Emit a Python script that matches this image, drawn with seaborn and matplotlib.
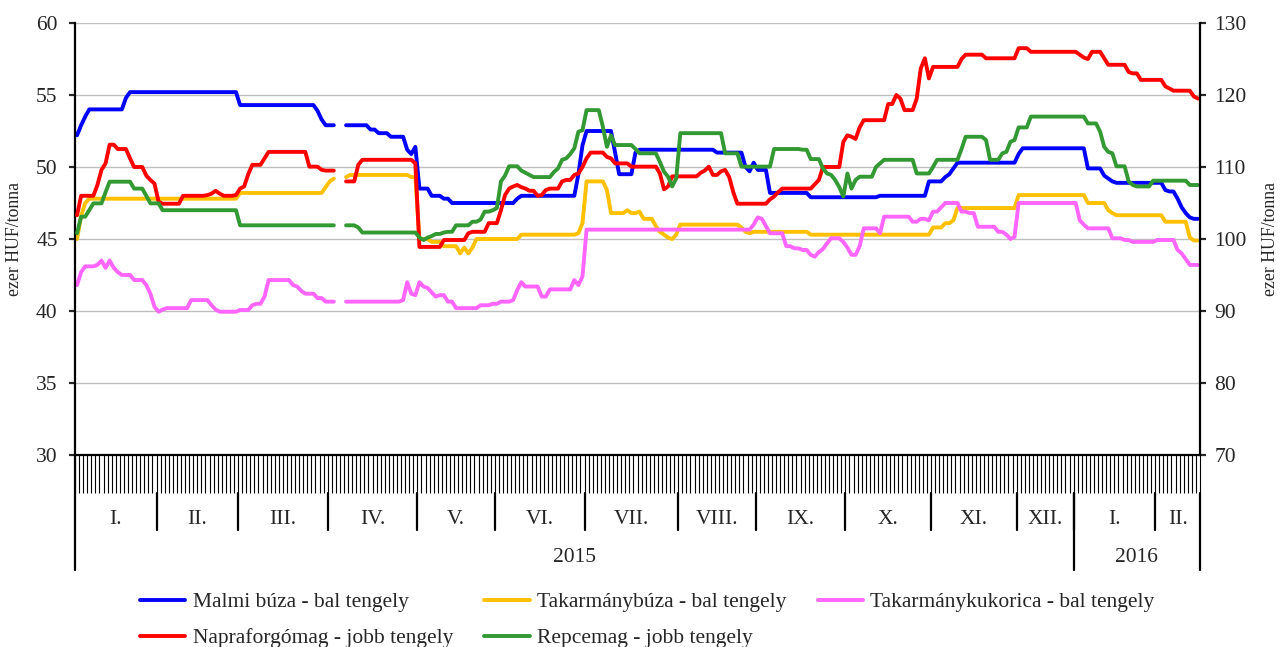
import numpy as np
import pandas as pd
import matplotlib
matplotlib.use("Agg")
import matplotlib.pyplot as plt
from matplotlib.lines import Line2D
import seaborn as sns

# Kereskedési napok havonta (2015. január - 2016. február)
month_labels = ["I.", "II.", "III.", "IV.", "V.", "VI.", "VII.", "VIII.",
                "IX.", "X.", "XI.", "XII.", "I.", "II."]
month_days = [20, 20, 22, 22, 19, 22, 23, 19, 22, 21, 21, 14, 20, 11]
year_labels = ["2015", "2016"]
year_months = [12, 2]
n_days = sum(month_days)

nan = np.nan

# Árváltozások: (kereskedési nap sorszáma, ár) - az ár a következő változásig érvényes
# bal tengely (ezer HUF/tonna)
malmi_buza = [(0, 52.2), (1, 52.9), (2, 53.5), (3, 54.0), (12, 54.8), (13, 55.2), (40, 54.3),
              (59, 53.9), (60, 53.3), (61, 52.9), (64, nan), (66, 52.9), (72, 52.6), (74, 52.35),
              (77, 52.1), (81, 51.2), (82, 50.9), (83, 51.4), (84, 48.5), (87, 48.0), (90, 47.8),
              (92, 47.5), (108, 47.8), (109, 48.0), (123, 49.5), (124, 51.5), (125, 52.5),
              (132, 51.0), (133, 49.5), (137, 51.0), (138, 51.2), (157, 51.0), (164, 50.0),
              (165, 49.7), (166, 50.3), (167, 49.8), (170, 48.2), (180, 47.9), (197, 48.0),
              (209, 49.0), (213, 49.3), (214, 49.5), (215, 49.9), (216, 50.3), (231, 50.9),
              (232, 51.3), (248, 49.9), (252, 49.4), (253, 49.2), (254, 49.0), (255, 48.9),
              (267, 48.4), (268, 48.3), (270, 47.8), (271, 47.2), (272, 46.8), (273, 46.5),
              (274, 46.4)]

takarmanybuza = [(0, 45.0), (1, 46.6), (2, 47.5), (3, 47.8), (40, 48.2), (61, 48.6), (62, 49.0),
                 (63, 49.2), (64, nan), (66, 49.3), (67, 49.45), (82, 49.3), (84, 45.0), (87, 44.8),
                 (90, 44.5), (94, 44.0), (95, 44.4), (96, 44.0), (97, 44.4), (98, 45.0), (109, 45.3),
                 (123, 45.4), (124, 46.1), (125, 49.0), (130, 48.4), (131, 46.8), (135, 47.0),
                 (136, 46.8), (138, 46.9), (139, 46.4), (142, 45.9), (143, 45.5), (144, 45.3),
                 (145, 45.1), (146, 45.0), (147, 45.3), (148, 46.0), (163, 45.8), (164, 45.5),
                 (165, 45.4), (166, 45.5), (180, 45.3), (210, 45.8), (213, 46.1), (215, 46.3),
                 (216, 47.15), (231, 48.05), (248, 47.5), (253, 47.0), (254, 46.8), (255, 46.65),
                 (267, 46.2), (273, 45.1), (274, 44.9)]

takarmanykukorica = [(0, 41.8), (1, 42.7), (2, 43.1), (5, 43.2), (6, 43.5), (7, 43.0), (8, 43.5),
                     (9, 43.0), (10, 42.7), (11, 42.5), (14, 42.15), (17, 41.8), (18, 41.2),
                     (19, 40.3), (20, 39.95), (21, 40.1), (22, 40.2), (28, 40.76), (33, 40.4),
                     (34, 40.1), (35, 39.95), (40, 40.07), (43, 40.4), (44, 40.5), (46, 41.0),
                     (47, 42.15), (53, 41.8), (54, 41.7), (55, 41.4), (56, 41.2), (59, 40.9),
                     (61, 40.65), (64, nan), (66, 40.65), (80, 40.76), (81, 42.0), (82, 41.2),
                     (83, 41.1), (84, 42.0), (85, 41.7), (86, 41.6), (87, 41.3), (88, 41.0),
                     (89, 41.1), (91, 40.65), (93, 40.2), (99, 40.4), (102, 40.5), (104, 40.65),
                     (107, 40.76), (108, 41.46), (109, 42.0), (110, 41.7), (114, 41.0), (116, 41.5),
                     (122, 42.15), (123, 41.8), (124, 42.4), (125, 45.65), (166, 46.0), (167, 46.5),
                     (168, 46.4), (169, 45.9), (170, 45.4), (174, 44.5), (176, 44.35), (178, 44.24),
                     (180, 43.9), (181, 43.77), (182, 44.1), (183, 44.3), (184, 44.7), (185, 45.05),
                     (188, 44.8), (189, 44.4), (190, 43.9), (192, 44.5), (193, 45.74), (197, 45.4),
                     (198, 46.55), (205, 46.2), (207, 46.4), (209, 46.3), (210, 46.9), (212, 47.2),
                     (213, 47.5), (217, 46.9), (219, 46.8), (221, 45.85), (226, 45.5), (228, 45.3),
                     (229, 45.0), (230, 45.15), (231, 47.5), (246, 46.3), (247, 46.0), (248, 45.74),
                     (254, 45.05), (257, 44.93), (259, 44.8), (265, 44.93), (270, 44.24),
                     (271, 44.0), (272, 43.6), (273, 43.2)]

# jobb tengely (ezer HUF/tonna)
napraforgomag = [(0, 103.3), (1, 106.0), (5, 107.5), (6, 109.6), (7, 110.5), (8, 113.1), (10, 112.5),
                 (13, 111.2), (14, 110.0), (17, 108.8), (18, 108.2), (19, 107.7), (20, 105.2),
                 (21, 104.9), (26, 106.0), (32, 106.1), (33, 106.3), (34, 106.7), (35, 106.3),
                 (36, 106.0), (39, 106.1), (40, 107.0), (41, 107.3), (42, 109.0), (43, 110.3),
                 (46, 111.2), (47, 112.1), (57, 110.05), (60, 109.6), (61, 109.5), (64, nan),
                 (66, 108.0), (69, 110.3), (70, 111.0), (83, 110.5), (84, 98.9), (90, 99.86),
                 (96, 100.8), (97, 101.0), (101, 102.2), (104, 104.0), (105, 106.1), (106, 107.0),
                 (107, 107.3), (108, 107.5), (109, 107.2), (110, 107.0), (111, 106.7), (113, 106.0),
                 (114, 106.1), (115, 106.8), (116, 107.0), (119, 108.0), (120, 108.2), (122, 108.9),
                 (123, 109.1), (124, 110.0), (125, 111.2), (126, 112.0), (130, 111.4), (131, 111.2),
                 (132, 110.5), (136, 110.05), (143, 109.1), (144, 106.9), (145, 107.3), (146, 108.7),
                 (153, 109.2), (154, 109.5), (155, 110.05), (156, 108.9), (158, 109.4), (159, 109.6),
                 (160, 108.6), (161, 106.5), (162, 104.9), (170, 105.5), (171, 105.9), (172, 106.5),
                 (173, 107.0), (181, 107.6), (182, 108.2), (183, 110.0), (188, 113.5), (189, 114.4),
                 (190, 114.2), (191, 113.9), (192, 115.5), (193, 116.5), (199, 118.75), (201, 120.0),
                 (202, 119.5), (203, 117.9), (206, 119.5), (207, 123.7), (208, 125.1), (209, 122.3),
                 (210, 123.9), (217, 125.0), (218, 125.6), (223, 125.1), (231, 126.5), (234, 126.0),
                 (246, 125.6), (247, 125.2), (248, 125.0), (249, 126.0), (252, 125.1), (253, 124.2),
                 (258, 123.2), (259, 123.0), (261, 122.1), (267, 121.2), (268, 120.9), (269, 120.6),
                 (274, 119.8), (275, 119.5)]

repcemag = [(0, 100.8), (1, 103.1), (3, 104.0), (4, 104.95), (7, 106.5), (8, 107.96), (14, 107.0),
            (17, 106.0), (18, 104.95), (21, 104.0), (40, 101.9), (64, nan), (66, 101.9), (69, 101.6),
            (70, 100.9), (84, 100.2), (85, 99.86), (86, 100.2), (87, 100.4), (88, 100.7), (90, 100.9),
            (91, 101.0), (93, 101.9), (97, 102.4), (99, 102.7), (100, 103.8), (102, 104.0),
            (103, 104.3), (104, 108.0), (105, 108.8), (106, 110.1), (109, 109.5), (110, 109.2),
            (111, 108.9), (112, 108.6), (117, 109.3), (118, 109.8), (119, 111.0), (120, 111.2),
            (121, 111.8), (122, 112.6), (123, 114.9), (124, 115.1), (125, 117.9), (129, 115.6),
            (130, 112.8), (131, 114.4), (132, 113.05), (137, 112.5), (138, 111.9), (143, 110.7),
            (144, 109.35), (145, 108.65), (146, 107.3), (147, 108.4), (148, 114.7), (159, 111.9),
            (163, 110.05), (171, 112.5), (178, 112.4), (180, 111.1), (183, 109.8), (184, 109.1),
            (185, 108.9), (186, 108.2), (187, 107.2), (188, 105.9), (189, 109.1), (190, 107.0),
            (191, 108.2), (192, 108.65), (196, 110.0), (197, 110.5), (198, 111.0), (206, 109.1),
            (210, 110.0), (211, 111.0), (217, 112.5), (218, 114.2), (223, 113.75), (224, 111.0),
            (227, 111.9), (228, 112.1), (229, 113.5), (230, 113.75), (231, 115.5), (234, 117.0),
            (248, 116.05), (251, 114.9), (252, 112.8), (253, 112.1), (254, 111.9), (255, 110.1),
            (258, 108.0), (259, 107.5), (260, 107.3), (264, 108.1), (273, 107.5)]

left_series = {"Malmi búza - bal tengely": (malmi_buza, "#0000FF"),
               "Takarmánybúza - bal tengely": (takarmanybuza, "#FFC000"),
               "Takarmánykukorica - bal tengely": (takarmanykukorica, "#FF66FF")}
right_series = {"Napraforgómag - jobb tengely": (napraforgomag, "#FF0000"),
                "Repcemag - jobb tengely": (repcemag, "#339933")}


def expand(changes, n):
    # lépcsős kitöltés: minden ár a következő változásig marad
    out = np.full(n, np.nan)
    for day, price in changes:
        out[day:] = price
    return out


def long_frame(series):
    frames = []
    for name, (changes, _) in series.items():
        vals = expand(changes, n_days)
        seg = np.cumsum(np.isnan(vals))
        d = pd.DataFrame({"nap": np.arange(n_days), "ar": vals, "sor": name, "szakasz": seg})
        frames.append(d.dropna())
    return pd.concat(frames, ignore_index=True)


df_left = long_frame(left_series)
df_right = long_frame(right_series)

sns.set_theme(style="white")
plt.rcParams["font.family"] = ["Liberation Serif", "DejaVu Serif"]
plt.rcParams["axes.edgecolor"] = "black"
FS = 15.5

fig = plt.figure(figsize=(12.8, 6.47), dpi=100)
ax = fig.add_axes([75 / 1280, 192 / 647, 1125 / 1280, 432 / 647])
ax2 = ax.twinx()

lw = 2.8
sns.lineplot(data=df_left, x="nap", y="ar", hue="sor", units="szakasz", estimator=None,
             palette={k: v[1] for k, v in left_series.items()}, linewidth=lw,
             legend=False, ax=ax, sort=True)
sns.lineplot(data=df_right, x="nap", y="ar", hue="sor", units="szakasz", estimator=None,
             palette={k: v[1] for k, v in right_series.items()}, linewidth=lw,
             legend=False, ax=ax2, sort=True)

ax.set_xlim(-0.5, n_days - 0.5)
ax.set_ylim(30, 60)
ax2.set_ylim(70, 130)
ax.set_yticks(np.arange(30, 61, 5))
ax2.set_yticks(np.arange(70, 131, 10))
ax.yaxis.grid(True, color="#BFBFBF", linewidth=1.0)
ax.xaxis.grid(False)

for a in (ax, ax2):
    a.spines["top"].set_visible(False)
    a.set_xlabel("")
ax.spines["right"].set_visible(False)
ax2.spines["left"].set_visible(False)
ax2.spines["bottom"].set_visible(False)
ax.spines["left"].set_linewidth(1.6)
ax.spines["bottom"].set_linewidth(1.6)
ax2.spines["right"].set_linewidth(1.6)

ax.tick_params(axis="y", direction="out", length=4.5, width=1.6, labelsize=FS, pad=8, left=True)
ax2.tick_params(axis="y", direction="out", length=4.5, width=1.6, labelsize=FS, pad=6, right=True)

# sűrű napi osztásjelek
ax.set_xticks(np.arange(-0.5, n_days, 1.0))
ax.tick_params(axis="x", direction="out", length=27.5, width=0.8, color="black",
               labelbottom=False, bottom=True)

ax.set_ylabel("ezer HUF/tonna", fontsize=12.8)
ax2.set_ylabel("ezer HUF/tonna", fontsize=12.8, rotation=90)
ax.yaxis.set_label_coords(-52 / 1125, 0.5)
ax2.yaxis.set_label_coords(1187 / 1125, 0.5)

# hónap- és évtagolás a tengely alatt
trans = ax.get_xaxis_transform()
bounds = np.concatenate([[0], np.cumsum(month_days)]) - 0.5
y_top, y_month, y_year = -38 / 432, -75 / 432, -115 / 432
for b in bounds[1:-1]:
    ax.add_artist(Line2D([b, b], [y_top, y_month], color="black", lw=1.6,
                         transform=trans, clip_on=False))
for i, lab in enumerate(month_labels):
    ax.text((bounds[i] + bounds[i + 1]) / 2, -65 / 432, lab, transform=trans,
            ha="center", va="center", fontsize=FS)

ybounds = bounds[np.concatenate([[0], np.cumsum(year_months)])]
for b in ybounds:
    ax.add_artist(Line2D([b, b], [0 if b < 0 else y_top, y_year], color="black", lw=1.6,
                         transform=trans, clip_on=False))
for i, lab in enumerate(year_labels):
    ax.text((ybounds[i] + ybounds[i + 1]) / 2, -102 / 432, lab, transform=trans,
            ha="center", va="center", fontsize=FS)

# jelmagyarázat
order = ["Malmi búza - bal tengely", "Napraforgómag - jobb tengely",
         "Takarmánybúza - bal tengely", "Repcemag - jobb tengely",
         "Takarmánykukorica - bal tengely"]
colors = {**{k: v[1] for k, v in left_series.items()}, **{k: v[1] for k, v in right_series.items()}}
handles = [Line2D([], [], color=colors[k], lw=lw) for k in order]
fig.legend(handles, order, loc="upper left", bbox_to_anchor=(140 / 1280, 1 - 592 / 647),
           ncol=3, frameon=False, fontsize=FS, borderpad=0, borderaxespad=0,
           handlelength=2.1, handletextpad=0.35, columnspacing=1.45, labelspacing=0.74)

fig.savefig("out.png", dpi=100)
